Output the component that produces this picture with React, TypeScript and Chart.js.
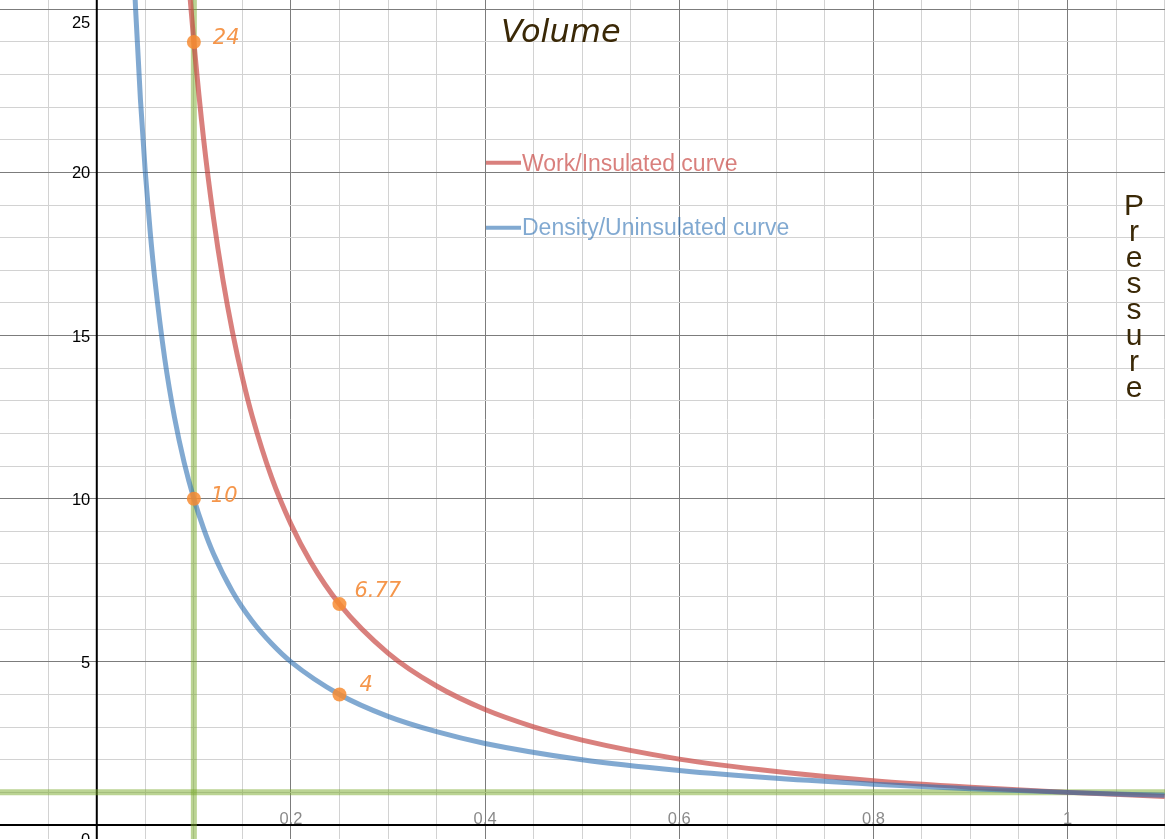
import { useEffect, useRef } from 'react';
import { Chart, registerables } from 'chart.js';

Chart.register(...registerables);

// Visible window of the graph
const volumeMin = -0.0997;
const volumeMax = 1.1004;
const pressureMin = -0.429;
const pressureMax = 25.285;

// Work / insulated (adiabatic) curve
const insulatedV = [0.095, 0.1, 0.11, 0.12, 0.13, 0.14, 0.15, 0.16, 0.18, 0.2, 0.22, 0.25, 0.3, 0.35, 0.4, 0.45, 0.5, 0.6, 0.7, 0.8, 0.9, 1.0, 1.1];
const insulatedP = [25.75, 24.0, 21.03, 18.65, 16.7, 15.08, 13.71, 12.54, 10.66, 9.22, 8.08, 6.77, 5.27, 4.26, 3.54, 3.01, 2.6, 2.02, 1.64, 1.36, 1.16, 1.0, 0.877];

// Density / uninsulated (isothermal) curve
const uninsulatedV = [0.039, 0.04, 0.045, 0.05, 0.055, 0.06, 0.07, 0.08, 0.09, 0.1, 0.11, 0.12, 0.14, 0.16, 0.18, 0.2, 0.25, 0.3, 0.35, 0.4, 0.5, 0.6, 0.7, 0.8, 0.9, 1.0, 1.1];
const uninsulatedP = [25.64, 25.0, 22.22, 20.0, 18.18, 16.67, 14.29, 12.5, 11.11, 10.0, 9.09, 8.33, 7.14, 6.25, 5.56, 5.0, 4.0, 3.33, 2.86, 2.5, 2.0, 1.67, 1.43, 1.25, 1.11, 1.0, 0.909];

// Marked states
const markedV = [0.1, 0.1, 0.25, 0.25];
const markedP = [24, 10, 6.77, 4];
const markedLabels = ['24', '10', '6.77', '4'];
const markedLabelOffsets = [[19, 2], [17, 3], [15, -7], [20, -3]];

// Reference lines
const referenceVolume = 0.1;
const referencePressure = 1;

// Axis labels
const xTickValues = [0.2, 0.4, 0.6, 0.8, 1];
const xTickLabels = ['0.2', '0.4', '0.6', '0.8', '1'];
const yTickValues = [0, 5, 10, 15, 20, 25];
const yTickLabels = ['0', '5', '10', '15', '20', '25'];
const seriesNames = ['Work/Insulated curve', 'Density/Uninsulated curve'];
const xAxisTitle = 'Volume';
const yAxisTitle = 'Pressure';

const RED = 'rgba(199,68,64,0.68)';
const BLUE = 'rgba(45,112,179,0.6)';
const GREEN = 'rgba(120,170,40,0.5)';
const ORANGE = 'rgba(247,140,50,0.85)';
const ORANGE_TEXT = 'rgb(245,150,75)';
const TITLE_COLOR = '#3a2806';
const MAJOR_GRID = '#7c7c7c';
const MINOR_GRID = '#d2d2d2';

const isMultiple = (v: number, step: number) => Math.abs(v / step - Math.round(v / step)) < 1e-6;

const toPoints = (xs: number[], ys: number[]) => xs.map((x, i) => ({ x, y: ys[i] }));

const graphPaper = {
  id: 'graphPaper',
  beforeDatasetsDraw(chart: any) {
    const { ctx, scales } = chart;
    const xs = scales.x;
    const ys = scales.y;
    const x0 = xs.getPixelForValue(0);
    const y0 = ys.getPixelForValue(0);
    ctx.save();
    ctx.strokeStyle = '#000';
    ctx.lineWidth = 2;
    ctx.beginPath();
    ctx.moveTo(x0, 0);
    ctx.lineTo(x0, chart.height);
    ctx.moveTo(0, y0);
    ctx.lineTo(chart.width, y0);
    ctx.stroke();

    ctx.font = "16.5px 'Liberation Sans', Arial, sans-serif";
    ctx.textBaseline = 'alphabetic';
    ctx.textAlign = 'right';
    ctx.fillStyle = '#000';
    yTickValues.forEach((v, i) => {
      let base = ys.getPixelForValue(v) + 6;
      if (v === 0) base = y0 + 20;
      base = Math.max(base, 27.5);
      ctx.fillText(yTickLabels[i], x0 - 6.5, base);
    });

    ctx.textAlign = 'center';
    ctx.fillStyle = '#8a8a8a';
    xTickValues.forEach((v, i) => {
      ctx.fillText(xTickLabels[i], xs.getPixelForValue(v), y0 - 1.5);
    });
    ctx.restore();
  },
  afterDatasetsDraw(chart: any) {
    const { ctx } = chart;
    ctx.save();

    // labels next to the marked states
    const meta = chart.getDatasetMeta(0);
    ctx.font = "italic 21px 'DejaVu Sans', sans-serif";
    ctx.fillStyle = ORANGE_TEXT;
    ctx.textAlign = 'left';
    ctx.textBaseline = 'alphabetic';
    meta.data.forEach((pt: any, i: number) => {
      const [dx, dy] = markedLabelOffsets[i];
      ctx.fillText(markedLabels[i], pt.x + dx, pt.y + dy);
    });

    // legend
    const legendColors = [RED, BLUE];
    const legendRows = [162.7, 227.7];
    const legendBase = [170.7, 235];
    ctx.font = "23px 'Liberation Sans', Arial, sans-serif";
    seriesNames.forEach((name, i) => {
      ctx.strokeStyle = legendColors[i];
      ctx.lineWidth = 4;
      ctx.beginPath();
      ctx.moveTo(486, legendRows[i]);
      ctx.lineTo(521, legendRows[i]);
      ctx.stroke();
      ctx.fillStyle = legendColors[i];
      ctx.fillText(name, 522, legendBase[i]);
    });

    // axis titles
    ctx.fillStyle = TITLE_COLOR;
    ctx.font = "italic 32px 'DejaVu Sans', sans-serif";
    ctx.fillText(xAxisTitle, 501, 41.5);

    ctx.font = "30px 'Liberation Sans', Arial, sans-serif";
    ctx.textAlign = 'center';
    yAxisTitle.split('').forEach((ch, i) => {
      ctx.fillText(ch, 1134, 214.5 + i * 26);
    });
    ctx.restore();
  },
};

export default function App() {
  const canvasRef = useRef<HTMLCanvasElement | null>(null);

  useEffect(() => {
    document.body.style.margin = '0';
    const canvas = canvasRef.current;
    if (!canvas) return;

    const gridOpts = (major: number) => ({
      drawTicks: false,
      lineWidth: 1,
      color: (c: any) => {
        const v = c.tick ? c.tick.value : 0;
        return isMultiple(v, major) ? MAJOR_GRID : MINOR_GRID;
      },
    });

    const chart = new Chart(canvas, {
      type: 'line',
      data: {
        datasets: [
          {
            label: 'states',
            data: toPoints(markedV, markedP),
            showLine: false,
            pointRadius: 7,
            pointBackgroundColor: ORANGE,
            pointBorderWidth: 0,
            borderColor: ORANGE,
          },
          {
            label: seriesNames[1],
            data: toPoints(uninsulatedV, uninsulatedP),
            borderColor: BLUE,
            borderWidth: 5,
            pointRadius: 0,
            cubicInterpolationMode: 'monotone',
          },
          {
            label: seriesNames[0],
            data: toPoints(insulatedV, insulatedP),
            borderColor: RED,
            borderWidth: 5,
            pointRadius: 0,
            cubicInterpolationMode: 'monotone',
          },
          {
            label: 'V ref',
            data: [{ x: referenceVolume, y: pressureMin - 2 }, { x: referenceVolume, y: pressureMax + 2 }],
            borderColor: GREEN,
            borderWidth: 6,
            pointRadius: 0,
          },
          {
            label: 'P ref',
            data: [{ x: volumeMin - 0.1, y: referencePressure }, { x: volumeMax + 0.1, y: referencePressure }],
            borderColor: GREEN,
            borderWidth: 6,
            pointRadius: 0,
          },
        ],
      },
      options: {
        responsive: false,
        animation: false,
        devicePixelRatio: 1,
        layout: { padding: 0, autoPadding: false },
        events: [],
        plugins: {
          legend: { display: false },
          tooltip: { enabled: false },
          title: { display: false },
        },
        scales: {
          x: {
            type: 'linear',
            min: volumeMin,
            max: volumeMax,
            border: { display: false },
            grid: gridOpts(0.2),
            ticks: { display: false, stepSize: 0.05, includeBounds: false },
          },
          y: {
            type: 'linear',
            min: pressureMin,
            max: pressureMax,
            border: { display: false },
            grid: gridOpts(5),
            ticks: { display: false, stepSize: 1, includeBounds: false },
          },
        },
      },
      plugins: [graphPaper],
    } as any);

    return () => chart.destroy();
  }, []);

  return (
    <div style={{ width: 1165, height: 839, background: '#fff' }}>
      <canvas ref={canvasRef} width={1165} height={839} style={{ display: 'block' }} />
    </div>
  );
}
